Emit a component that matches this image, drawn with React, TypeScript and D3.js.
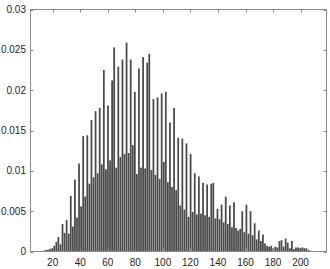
import React, { useEffect, useRef } from "react";
import * as d3 from "d3";

// histogram bins: first edge and width (x units)
const binStart = 13;
const binWidth = 1.5;

// probability per bin
const probs = [
  0.0001, 0.0002, 0.0002, 0.0003, 0.0004, 0.0007, 0.0012, 0.0018, 0.0009, 0.0034,
  0.0023, 0.0039, 0.0022, 0.0069, 0.0031, 0.0089, 0.0042, 0.0109, 0.0056, 0.0143,
  0.0068, 0.0144, 0.0084, 0.0163, 0.0092, 0.0174, 0.0097, 0.0178, 0.0108, 0.0225,
  0.0102, 0.0181, 0.0113, 0.0212, 0.0253, 0.0104, 0.0229, 0.0117, 0.0238, 0.0121,
  0.0259, 0.0122, 0.0238, 0.0132, 0.0198, 0.0096, 0.0227, 0.0104, 0.0241, 0.0103,
  0.0234, 0.0245, 0.0101, 0.0189, 0.0095, 0.0191, 0.0090, 0.0196, 0.0111, 0.0198,
  0.0086, 0.0160, 0.0080, 0.0178, 0.0076, 0.0141, 0.0057, 0.0140, 0.0052, 0.0134,
  0.0043, 0.0121, 0.0049, 0.0097, 0.0046, 0.0093, 0.0047, 0.0085, 0.0045, 0.0083,
  0.0043, 0.0084, 0.0085, 0.0041, 0.0053, 0.0040, 0.0058, 0.0036, 0.0068, 0.0034,
  0.0057, 0.0030, 0.0061, 0.0029, 0.0026, 0.0028, 0.0050, 0.0024, 0.0058, 0.0022,
  0.0050, 0.0020, 0.0035, 0.0015, 0.0026, 0.0013, 0.0021, 0.0010, 0.0007, 0.0006,
  0.0007, 0.0004, 0.0006, 0.0005, 0.0013, 0.0014, 0.0006, 0.0016, 0.0011, 0.0004,
  0.0013, 0.0003, 0.0005, 0.0005, 0.0004, 0.0005, 0.0004, 0.0004, 0.0002, 0.0001,
];

const xTicks = [20, 40, 60, 80, 100, 120, 140, 160, 180, 200];
const xTickLabels = ["20", "40", "60", "80", "100", "120", "140", "160", "180", "200"];
const yTicks = [0, 0.005, 0.01, 0.015, 0.02, 0.025, 0.03];
const yTickLabels = ["0", "0.005", "0.01", "0.015", "0.02", "0.025", "0.03"];

export default function App() {
  const ref = useRef<SVGSVGElement>(null);

  useEffect(() => {
    const W = 330, H = 269;
    const box = { left: 30.5, right: 326.5, top: 9.5, bottom: 251.5 };
    const tickLen = 3;
    const axisColor = "#8c8c8c";
    const textColor = "#262626";

    const svg = d3.select(ref.current).attr("width", W).attr("height", H);
    svg.selectAll("*").remove();

    const x = d3.scaleLinear().domain([3.9, 218.8]).range([box.left, box.right]);
    const y = d3.scaleLinear().domain([0, 0.03]).range([box.bottom, box.top]);

    svg.append("rect").attr("width", W).attr("height", H).attr("fill", "#fff");

    // bars
    svg.append("g")
      .selectAll("rect")
      .data(probs)
      .join("rect")
      .attr("x", (d, i) => x(binStart + i * binWidth))
      .attr("width", (d, i) => x(binStart + (i + 1) * binWidth) - x(binStart + i * binWidth) - 0.3)
      .attr("y", d => y(d))
      .attr("height", d => y(0) - y(d))
      .attr("fill", "#4a4a4a");

    // box
    svg.append("rect")
      .attr("x", box.left).attr("y", box.top)
      .attr("width", box.right - box.left).attr("height", box.bottom - box.top)
      .attr("fill", "none").attr("stroke", axisColor).attr("stroke-width", 1);

    const ticks = svg.append("g").attr("stroke", axisColor).attr("stroke-width", 1);
    xTicks.forEach(t => {
      const px = Math.round(x(t)) + 0.5;
      ticks.append("line").attr("x1", px).attr("x2", px).attr("y1", box.bottom).attr("y2", box.bottom - tickLen);
      ticks.append("line").attr("x1", px).attr("x2", px).attr("y1", box.top).attr("y2", box.top + tickLen);
    });
    yTicks.forEach(t => {
      const py = Math.round(y(t)) + 0.5;
      ticks.append("line").attr("x1", box.left).attr("x2", box.left + tickLen).attr("y1", py).attr("y2", py);
      ticks.append("line").attr("x1", box.right).attr("x2", box.right - tickLen).attr("y1", py).attr("y2", py);
    });

    const labels = svg.append("g")
      .attr("font-family", "'Liberation Sans', Arial, sans-serif")
      .attr("font-size", 10)
      .attr("fill", textColor);

    labels.selectAll(".xl")
      .data(xTicks)
      .join("text")
      .attr("class", "xl")
      .attr("x", d => x(d))
      .attr("y", 266)
      .attr("text-anchor", "middle")
      .text((d, i) => xTickLabels[i]);

    labels.selectAll(".yl")
      .data(yTicks)
      .join("text")
      .attr("class", "yl")
      .attr("x", 26)
      .attr("y", d => y(d))
      .attr("dy", "0.35em")
      .attr("text-anchor", "end")
      .text((d, i) => yTickLabels[i]);
  }, []);

  return <svg ref={ref} style={{ position: "fixed", left: 0, top: 0 }} />;
}
